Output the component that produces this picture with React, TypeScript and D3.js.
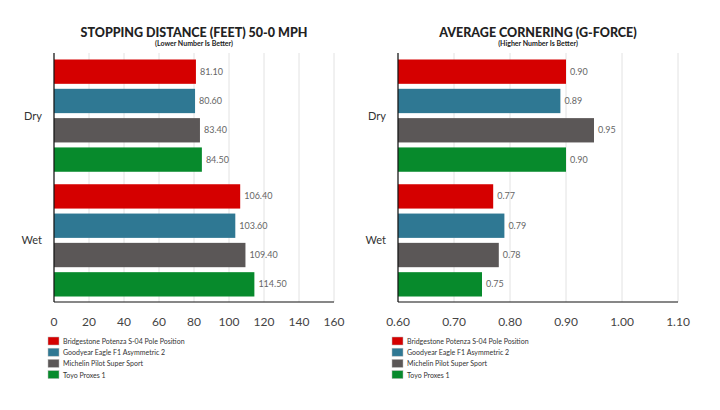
import React from "react";
import * as d3 from "d3";

const categories = ["Dry", "Wet"];
const series = ["Bridgestone Potenza S-04 Pole Position", "Goodyear Eagle F1 Asymmetric 2", "Michelin Pilot Super Sport", "Toyo Proxes 1"];
const colors = ["#d50000", "#2f7893", "#5b5757", "#078a2c"];
const stopping = [[81.1, 80.6, 83.4, 84.5], [106.4, 103.6, 109.4, 114.5]];
const cornering = [[0.9, 0.89, 0.95, 0.9], [0.77, 0.79, 0.78, 0.75]];
const stopTicks = [0, 20, 40, 60, 80, 100, 120, 140, 160];
const cornerTicks = [0.6, 0.7, 0.8, 0.9, 1.0, 1.1];

const FONT = "Lato, 'Open Sans', sans-serif";

function Panel({ x0, x1, domain, ticks, data, title, sub, fmtTick }: any) {
  const x = d3.scaleLinear().domain(domain).range([x0, x1]);
  const yb = d3.scaleBand().domain(categories).range([57, 299]).paddingInner(0.1).paddingOuter(0.02);
  const yi = d3.scaleBand().domain(series).range([0, yb.bandwidth()]).paddingInner(0.17);
  const cx = (x0 + x1) / 2;
  return (
    <g fontFamily={FONT}>
      <text x={cx} y={37} textAnchor="middle" fontWeight={900} fontSize={12.5} fill="#222">{title}</text>
      <text x={cx} y={46} textAnchor="middle" fontWeight={700} fontSize={7} fill="#222">{sub}</text>
      {ticks.map((t: number) => (
        <g key={t}>
          <line x1={x(t)} x2={x(t)} y1={53} y2={302} stroke="#e2e2e2" />
          <text x={x(t)} y={326} textAnchor="middle" fontSize={12} fill="#444">{fmtTick(t)}</text>
        </g>
      ))}
      {categories.map((c, ci) => (
        <g key={c}>
          <text x={x0 - 12} y={yb(c)! + yb.bandwidth() / 2 + 4} textAnchor="end" fontSize={11} fill="#333">{c}</text>
          {series.map((s, si) => {
            const v = data[ci][si];
            const y = yb(c)! + yi(s)!;
            return (
              <g key={s}>
                <rect x={x0} y={y} width={x(v) - x0} height={yi.bandwidth()} fill={colors[si]} />
                <text x={x(v) + 4} y={y + yi.bandwidth() / 2 + 3} fontSize={9} fill="#666">{v.toFixed(2)}</text>
              </g>
            );
          })}
        </g>
      ))}
      <line x1={x0} x2={x0} y1={53} y2={302} stroke="#111" strokeWidth={1.2} />
      <line x1={x0} x2={x1} y1={302} y2={302} stroke="#111" strokeWidth={1.2} />
      {series.map((s, si) => (
        <g key={s} transform={`translate(${x0 - 6},${337 + si * 11.2})`}>
          <rect x={0} y={0} width={11} height={8} fill={colors[si]} stroke="#bbb" strokeWidth={0.5} />
          <text x={15} y={7} fontSize={7} fill="#333">{s}</text>
        </g>
      ))}
    </g>
  );
}

export default function App() {
  return (
    <svg width={720} height={410} style={{ display: "block", position: "absolute", left: 0, top: 0 }}>
      <rect width={720} height={410} fill="#fff" />
      <Panel x0={54} x1={334} domain={[0, 160]} ticks={stopTicks} data={stopping}
        title="STOPPING DISTANCE (FEET) 50-0 MPH" sub="(Lower Number Is Better)" fmtTick={(t: number) => String(t)} />
      <Panel x0={398} x1={678} domain={[0.6, 1.1]} ticks={cornerTicks} data={cornering}
        title="AVERAGE CORNERING (G-FORCE)" sub="(Higher Number Is Better)" fmtTick={(t: number) => t.toFixed(2)} />
    </svg>
  );
}
